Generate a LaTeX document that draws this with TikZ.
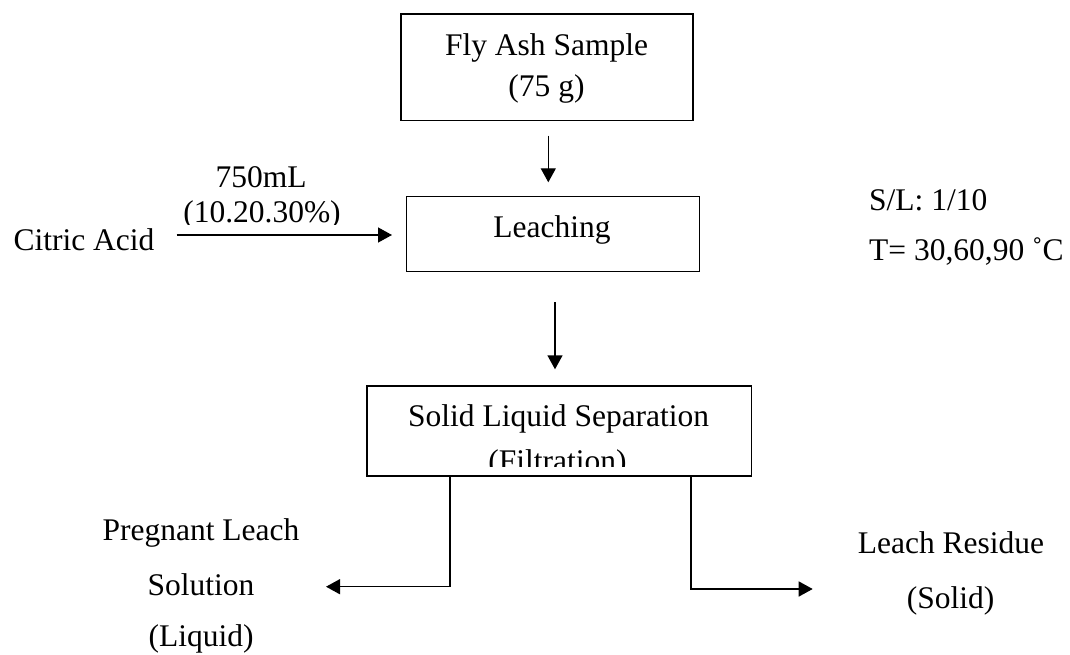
\documentclass[tikz,border=0pt]{standalone}
\usepackage{fontspec}
\setmainfont{Liberation Serif}
\usetikzlibrary{arrows.meta}
\begin{document}
\begin{tikzpicture}[x=1pt,y=-1pt,
  every node/.style={font=\fontsize{31.5}{40}\selectfont, inner sep=0pt},
  stepbox/.style={draw, line width=1.4pt, rectangle, minimum width=#1},
  label/.style={anchor=base},
  arr/.style={line width=1.4pt, -{Triangle[length=14pt,width=15pt]}},
  conn/.style={line width=1.4pt}]
\useasboundingbox (0,0) rectangle (1070,655);

% process boxes
\node[stepbox=292pt, minimum height=106.7pt] (fly) at (547,67.4) {};
\node[stepbox=292.6pt, minimum height=75pt] (leach) at (553,234.2) {};
\node[stepbox=384.7pt, minimum height=90pt] (sep) at (559.35,431) {};

% box texts
\node[label] (flyA) at (546.5,56) {Fly Ash Sample};
\node[label] (flyB) at (546.5,97) {(75 g)};
\node[label] (leachT) at (552,237) {Leaching};
\node[label] (sepA) at (558.7,426) {Solid Liquid Separation};
\begin{scope}
  \clip (370,440) rectangle (750,466);
  \node[label] (sepB) at (557.5,471) {(Filtration)};
\end{scope}

% acid feed
\node[label] (acid) at (84,250.7) {Citric Acid};
\node[label] (vol) at (261,188) {750mL};
\begin{scope}
  \clip (170,190) rectangle (360,224.5);
  \node[label] (conc) at (262,222.5) {(10.20.30\%)};
\end{scope}

% operating conditions
\node[label, anchor=base west] (sl) at (869,210) {S/L: 1/10};
\node[label, anchor=base west] (temp) at (869,260) {T= 30,60,90 ˚C};

% products
\node[label] (plsA) at (201,540) {Pregnant Leach};
\node[label] (plsB) at (201,595) {Solution};
\node[label] (plsC) at (201,646.7) {(Liquid)};
\node[label] (resA) at (951,553) {Leach Residue};
\node[label] (resB) at (950.5,608) {(Solid)};

% connectors
\coordinate (xa) at (548.3,0);
\coordinate (xb) at (555,0);
\coordinate (xl) at (450,0);
\coordinate (xr) at (691,0);
\coordinate (ca) at (176.7,235);
\coordinate (lo) at (326,586.7);
\coordinate (ro) at (812.7,589);

\draw[arr, shorten <=14.3pt, shorten >=13.7pt] (fly.south -| xa) -- (leach.north -| xa);
\draw[arr, shorten <=30pt, shorten >=16pt] (leach.south -| xb) -- (sep.north -| xb);
\draw[arr, shorten >=14pt] (ca) -- (ca -| leach.west);
\draw[arr] (sep.south -| xl) |- (lo);
\draw[arr] (sep.south -| xr) |- (ro);
\end{tikzpicture}
\end{document}
